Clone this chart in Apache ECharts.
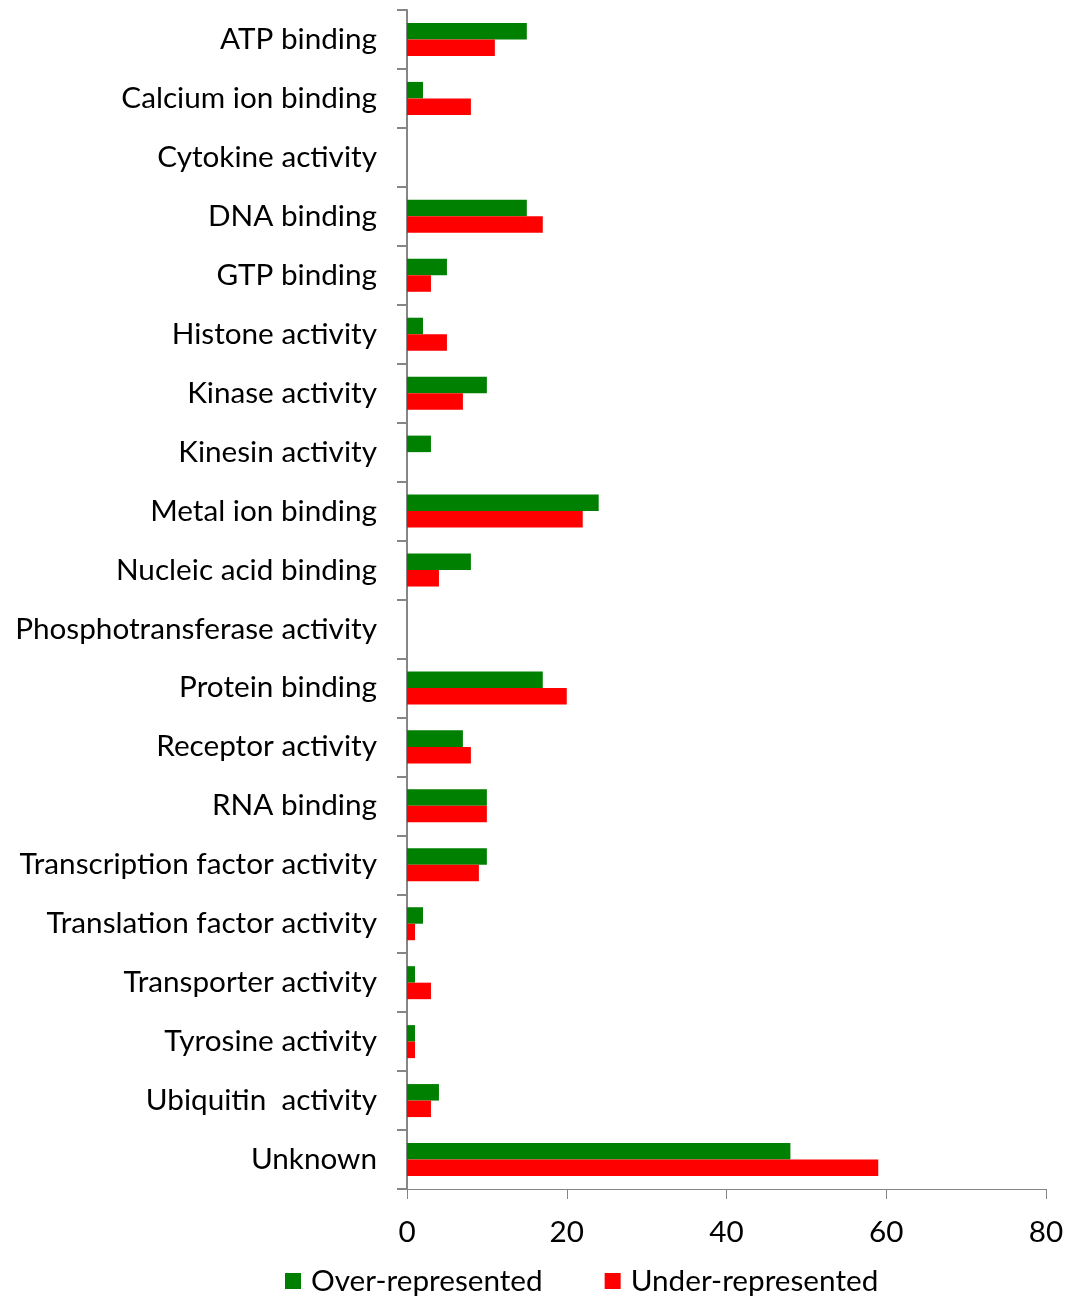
<!DOCTYPE html>
<html>
<head>
<meta charset="utf-8">
<script src="https://cdn.jsdelivr.net/npm/echarts@6/dist/echarts.min.js"></script>
<style>html,body{margin:0;padding:0;background:#fff}#c{width:1071px;height:1297px}</style>
</head>
<body>
<div id="c"></div>
<script>
const categories = ["ATP binding","Calcium ion binding","Cytokine activity","DNA binding","GTP binding","Histone activity","Kinase activity","Kinesin activity","Metal ion binding","Nucleic acid binding","Phosphotransferase activity","Protein binding","Receptor activity","RNA binding","Transcription factor activity","Translation factor activity","Transporter activity","Tyrosine activity","Ubiquitin  activity","Unknown"];
const overRepresented = [15,2,0,15,5,2,10,3,24,8,0,17,7,10,10,2,1,1,4,48];
const underRepresented = [11,8,0,17,3,5,7,0,22,4,0,20,8,10,9,1,3,1,3,59];
const xTicks = [0,20,40,60,80];

const FONT = "Lato";
const FS = 29.7;
const chart = echarts.init(document.getElementById('c'));
chart.setOption({
  animation: false,
  textStyle: {fontFamily: FONT},
  grid: {left: 407, right: 25, top: 10, bottom: 108, containLabel: false},
  legend: {
    top: 1261, left: 280,
    itemWidth: 16, itemHeight: 16, itemGap: 62,
    icon: 'rect',
    textStyle: {fontFamily: FONT, fontSize: FS, color: '#000', padding: [0,0,0,5]},
    data: ['Over-represented','Under-represented']
  },
  xAxis: {
    type: 'value', min: xTicks[0], max: xTicks[xTicks.length-1], interval: 20,
    axisLine: {show: true, lineStyle: {color: '#868686', width: 1}},
    axisTick: {show: true, length: 10, lineStyle: {color: '#868686'}},
    splitLine: {show: false},
    axisLabel: {fontFamily: FONT, fontSize: FS, color: '#000', margin: 28}
  },
  yAxis: {
    type: 'category', data: categories, inverse: true,
    axisLine: {show: true, lineStyle: {color: '#868686', width: 2}},
    axisTick: {show: true, length: 10, alignWithLabel: false, lineStyle: {color: '#868686', width: 2}},
    axisLabel: {fontFamily: FONT, fontSize: FS, color: '#000', margin: 30, interval: 0}
  },
  series: [
    {name: 'Over-represented', type: 'bar', data: overRepresented, itemStyle: {color: '#008000'}, barGap: '0%', barCategoryGap: '44%'},
    {name: 'Under-represented', type: 'bar', data: underRepresented, itemStyle: {color: '#FF0000'}, barGap: '0%', barCategoryGap: '44%'}
  ]
});
</script>
</body>
</html>
